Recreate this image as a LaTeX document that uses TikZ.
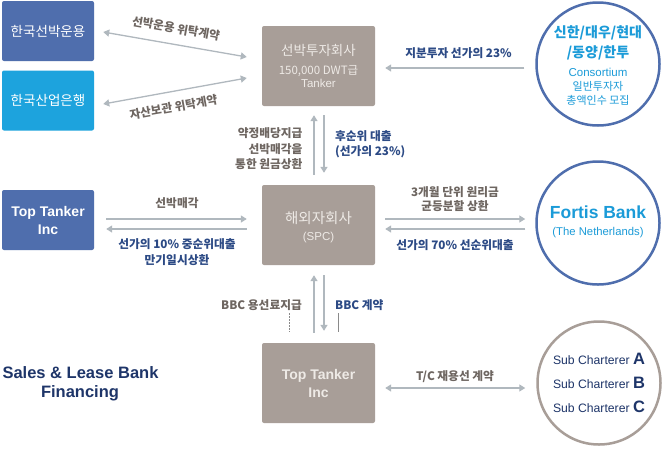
\documentclass[tikz,border=0pt]{standalone}
\usepackage{fontspec}
\setmainfont{Liberation Sans}
\newfontfamily\kr{Noto Sans CJK KR}
\usetikzlibrary{arrows.meta,calc}
\definecolor{cBlue}{HTML}{4F6EAD}
\definecolor{cCyan}{HTML}{1DA3DD}
\definecolor{cTaupe}{HTML}{A89E98}
\definecolor{cBoxText}{HTML}{EEEAE6}
\definecolor{cArrow}{HTML}{B0B8BE}
\definecolor{cLblGray}{HTML}{6E6661}
\definecolor{cLblBlue}{HTML}{2C4A85}
\definecolor{cNavy}{HTML}{1E3569}
\definecolor{cRingText}{HTML}{1B9BD8}
\definecolor{cStub}{HTML}{8A8A8A}
\begin{document}
\begin{tikzpicture}[x=1pt,y=-1pt,
  box/.style={rectangle, rounded corners=2pt, inner sep=0pt, align=center},
  bluebox/.style={box, fill=cBlue, minimum width=92pt, minimum height=60pt, text=white},
  cyanbox/.style={box, fill=cCyan, minimum width=92pt, minimum height=60pt, text=white},
  taupebox/.style={box, fill=cTaupe, minimum width=113pt, minimum height=80pt, text=cBoxText},
  ring/.style={circle, line width=2.5pt, minimum size=123pt, inner sep=0pt},
  conn/.style={draw=cArrow, line width=1.3pt},
  onetip/.style={conn, -{Triangle[length=6pt,width=7pt]}},
  twotip/.style={conn, {Triangle[length=6pt,width=7pt]}-{Triangle[length=6pt,width=7pt]}},
  lblg/.style={font=\kr\bfseries\fontsize{11.7}{15.5}\selectfont, text=cLblGray, inner sep=0pt, align=center},
  lblb/.style={font=\kr\bfseries\fontsize{11.7}{15.5}\selectfont, text=cLblBlue, inner sep=0pt, align=center},
  krbox/.style={font=\kr\fontsize{13.5}{16}\selectfont},
  enbox/.style={font=\bfseries\fontsize{14}{18}\selectfont},
  ringtxt/.style={inner sep=0pt, text=cRingText},
  subtxt/.style={inner sep=0pt, text=cNavy, font=\fontsize{12.2}{14}\selectfont},
  big/.style={font=\bfseries\fontsize{16.5}{20}\selectfont, text=cNavy, inner sep=0pt}
]
\useasboundingbox (0,0) rectangle (664,448);
\fill[white] (0,0) rectangle (664,448);

% boxes
\node[bluebox, krbox] (b1) at (48,31) {한국선박운용};
\node[cyanbox, krbox] (b2) at (48,100.5) {한국산업은행};
\node[taupebox] (inv) at (318.5,66) {};
\node[krbox, text=cBoxText, inner sep=0pt] (invt1) at (318.5,50) {선박투자회사};
\node[text=cBoxText, inner sep=0pt, font=\kr\fontsize{11.5}{13}\selectfont] (invt2) at (318.5,71) {150,000 DWT급};
\node[text=cBoxText, inner sep=0pt, font=\fontsize{11.5}{13}\selectfont] (invt3) at (318.5,83) {Tanker};
\node[taupebox] (spc) at (318.5,225) {};
\node[text=cBoxText, inner sep=0pt, font=\kr\fontsize{14.5}{16}\selectfont] (spct1) at (318.5,218) {해외자회사};
\node[text=cBoxText, inner sep=0pt, font=\fontsize{11.5}{13}\selectfont] (spct2) at (318.5,238) {(SPC)};
\node[bluebox, enbox] (tt1) at (48,220) {Top Tanker\\Inc};
\node[taupebox, enbox] (tt2) at (318.5,383) {Top Tanker\\Inc};

% circles
\node[ring, draw=cBlue] (c1) at (598,64) {};
\node[ringtxt, font=\kr\bfseries\fontsize{14}{16}\selectfont] (c1t1) at (598,33) {신한/대우/현대};
\node[ringtxt, font=\kr\bfseries\fontsize{14}{16}\selectfont] (c1t2) at (598,53) {/동양/한투};
\node[ringtxt, font=\fontsize{11.5}{13}\selectfont] (c1t3) at (598,72) {Consortium};
\node[ringtxt, font=\kr\fontsize{11}{13}\selectfont] (c1t4) at (598,86.5) {일반투자자};
\node[ringtxt, font=\kr\fontsize{11}{13}\selectfont] (c1t5) at (598,100.5) {총액인수 모집};

\node[ring, draw=cBlue] (c2) at (598,223) {};
\node[ringtxt, font=\bfseries\fontsize{17.5}{20}\selectfont] (c2t1) at (598,212) {Fortis Bank};
\node[ringtxt, font=\fontsize{11.3}{13}\selectfont] (c2t2) at (598,233) {(The Netherlands)};

\node[ring, draw=cTaupe] (c3) at (599,383) {};
\node[subtxt] (c3t1) at (599,359) {Sub Charterer {\bfseries\fontsize{16.5}{17}\selectfont A}};
\node[subtxt] (c3t2) at (599,383) {Sub Charterer {\bfseries\fontsize{16.5}{17}\selectfont B}};
\node[subtxt] (c3t3) at (599,407) {Sub Charterer {\bfseries\fontsize{16.5}{17}\selectfont C}};

% connectors: top left
\draw[twotip] ($(b1.east)+(9,1)$) -- ($(inv.west)+(-15,-9)$);
\draw[twotip] ($(b2.east)+(9,3.5)$) -- ($(inv.west)+(-15,12)$);
\node[lblg, rotate=-10] (l1) at (176,28.5) {선박운용 위탁계약};
\node[lblg, rotate=10] (l2) at (173.5,107) {자산보관 위탁계약};

% consortium to investment company
\draw[onetip] ($(c1.west)+(-11,4)$) -- ($(inv.east)+(10,2)$);
\node[lblb] (l3) at (458.5,53) {지분투자 선가의 23\%};

% vertical between inv and spc
\draw[onetip] ($(spc.north)+(-4.5,-10)$) -- ($(inv.south)+(-4.5,9)$);
\draw[onetip] ($(inv.south)+(5.5,9)$) -- ($(spc.north)+(5.5,-12)$);
\node[lblg, anchor=east, align=right] (l4) at (302.7,148.8) {약정배당지급\\선박매각을\\통한 원금상환};
\node[lblb, anchor=west, align=left] (l5) at (335,144.2) {후순위 대출\\(선가의 23\%)};

% left Top Tanker to spc
\draw[onetip] ($(tt1.east)+(12,-1)$) -- ($(spc.west)+(-15,-6)$);
\draw[onetip] ($(spc.west)+(-15,4)$) -- ($(tt1.east)+(12,9)$);
\node[lblg] (l6) at (177,203) {선박매각};
\node[lblb, font=\kr\bfseries\fontsize{11.7}{16}\selectfont] (l7) at (177,252) {선가의 10\% 중순위대출\\만기일시상환};

% spc to Fortis
\draw[onetip] ($(spc.east)+(10,-6)$) -- ($(c2.west)+(-10,-4)$);
\draw[onetip] ($(c2.west)+(-10,6)$) -- ($(spc.east)+(10,4)$);
\node[lblg, font=\kr\bfseries\fontsize{11.7}{14}\selectfont] (l8) at (455,198.7) {3개월 단위 원리금\\균등분할 상환};
\node[lblb] (l9) at (455,245) {선가의 70\% 선순위대출};

% spc to bottom Top Tanker
\draw[onetip] ($(tt2.north)+(-4.5,-10)$) -- ($(spc.south)+(-4.5,10)$);
\draw[onetip] ($(spc.south)+(5.5,10)$) -- ($(tt2.north)+(5.5,-12)$);
\node[lblg, anchor=east] (l10) at (302,305) {BBC 용선료지급};
\node[lblb, anchor=west] (l11) at (335,305) {BBC 계약};
\coordinate (s1a) at (289,313);
\coordinate (s1b) at (289,332);
\coordinate (s2a) at (338,313);
\coordinate (s2b) at (338,332);
\draw[cStub, line width=0.6pt, dash pattern=on 1.5pt off 1.5pt] (s1a) -- (s1b);
\draw[cStub, line width=0.7pt] (s2a) -- (s2b);

% bottom Top Tanker to sub charterers
\draw[twotip] ($(tt2.east)+(10,5)$) -- ($(c3.west)+(-11,5)$);
\node[lblg] (l12) at (455,377) {T/C 재용선 계약};

% title
\node[big] (t1) at (80.5,373) {Sales \& Lease Bank};
\node[big] (t2) at (80,393) {Financing};
\end{tikzpicture}
\end{document}
